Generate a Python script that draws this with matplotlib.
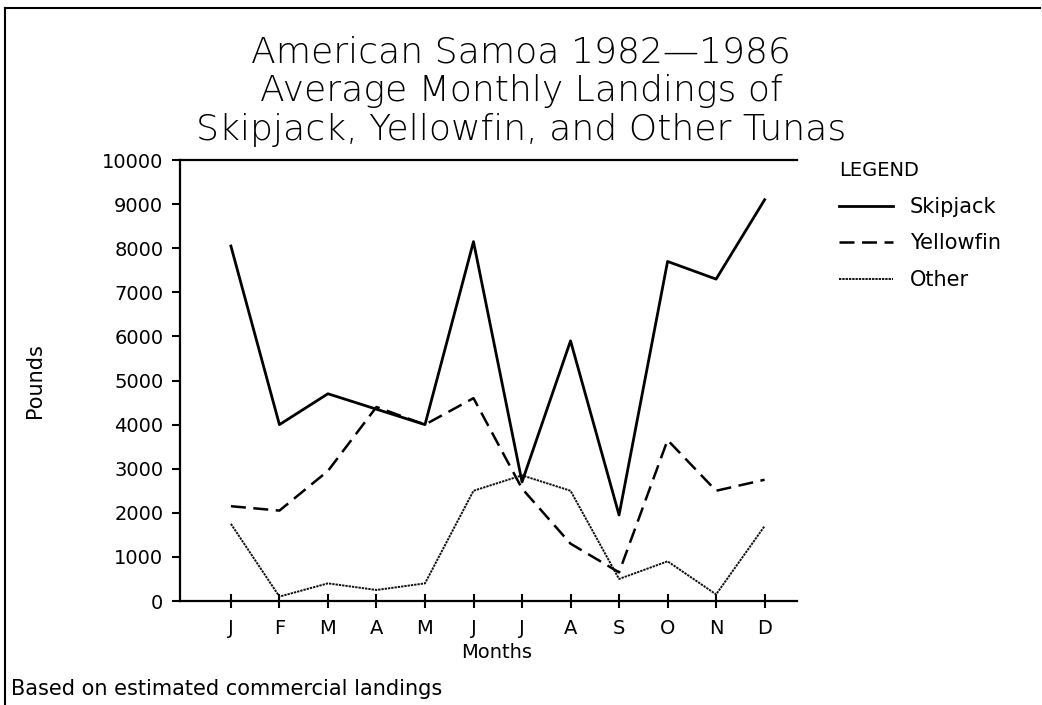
import matplotlib
matplotlib.use("Agg")
import matplotlib.pyplot as plt
from matplotlib.lines import Line2D

months = ["J", "F", "M", "A", "M", "J", "J", "A", "S", "O", "N", "D"]
skipjack = [8050, 4000, 4700, 4350, 4000, 8150, 2700, 5900, 1950, 7700, 7300, 9100]
yellowfin = [2150, 2050, 2950, 4400, 4000, 4600, 2550, 1300, 650, 3650, 2500, 2750]
other = [1750, 100, 400, 250, 400, 2500, 2850, 2500, 500, 900, 150, 1700]
yticks = list(range(0, 10001, 1000))
title_lines = ["American Samoa 1982\u20141986",
               "Average Monthly Landings of",
               "Skipjack, Yellowfin, and Other Tunas"]

plt.rcParams['font.family'] = ['DejaVu Sans']

fig = plt.figure(figsize=(10.42, 7.05), dpi=100)
ax = fig.add_axes([0.1727, 0.1475, 0.5923, 0.6255])

x = list(range(1, 13))
l1, = ax.plot(x, skipjack, color="black", lw=2.0, ls="-")
l2, = ax.plot(x, yellowfin, color="black", lw=1.8, ls=(0, (6, 3)))
l3, = ax.plot(x, other, color="#111111", lw=1.4, ls=(0, (1.2, 0.5)))

ax.set_xlim(-0.05, 12.67)
ax.set_ylim(0, 10000)
ax.set_xticks(x)
ax.set_xticklabels(months, fontsize=14)
ax.set_yticks(yticks)
ax.set_yticklabels([str(v) for v in yticks], fontsize=14)
ax.tick_params(axis="x", direction="inout", length=10, width=1.5, pad=8)
ax.tick_params(axis="y", direction="out", length=6, width=1.5, pad=6)
ax.spines["right"].set_visible(False)
for s in ["left", "bottom", "top"]:
    ax.spines[s].set_linewidth(1.6)

fig.text(0.477, 0.074, "Months", fontsize=14, ha="center", va="center")
fig.text(0.034, 0.46, "Pounds", rotation=90, fontsize=15,
         family=["Liberation Sans Narrow", "DejaVu Sans"], ha="center", va="center")

for line, yb in zip(title_lines, [0.912, 0.857, 0.802]):
    fig.text(0.5, yb, line, ha="center", va="baseline", fontsize=26, fontweight="light")

leg = fig.legend([l1, l2, l3], ["Skipjack", "Yellowfin", "Other"], title="LEGEND",
                 loc="upper left", bbox_to_anchor=(0.787, 0.798), frameon=False,
                 fontsize=15, title_fontsize=14, handlelength=2.6, labelspacing=0.8,
                 handletextpad=0.8, alignment="left")

fig.text(0.011, 0.014, "Based on estimated commercial landings", fontsize=15)

# scanned page frame
fig.add_artist(Line2D([0.005, 0.998], [0.988, 0.988], color="black", lw=1.5, transform=fig.transFigure))
fig.add_artist(Line2D([0.005, 0.005], [0.0, 0.988], color="black", lw=1.5, transform=fig.transFigure))

fig.savefig("out.png", dpi=100)
